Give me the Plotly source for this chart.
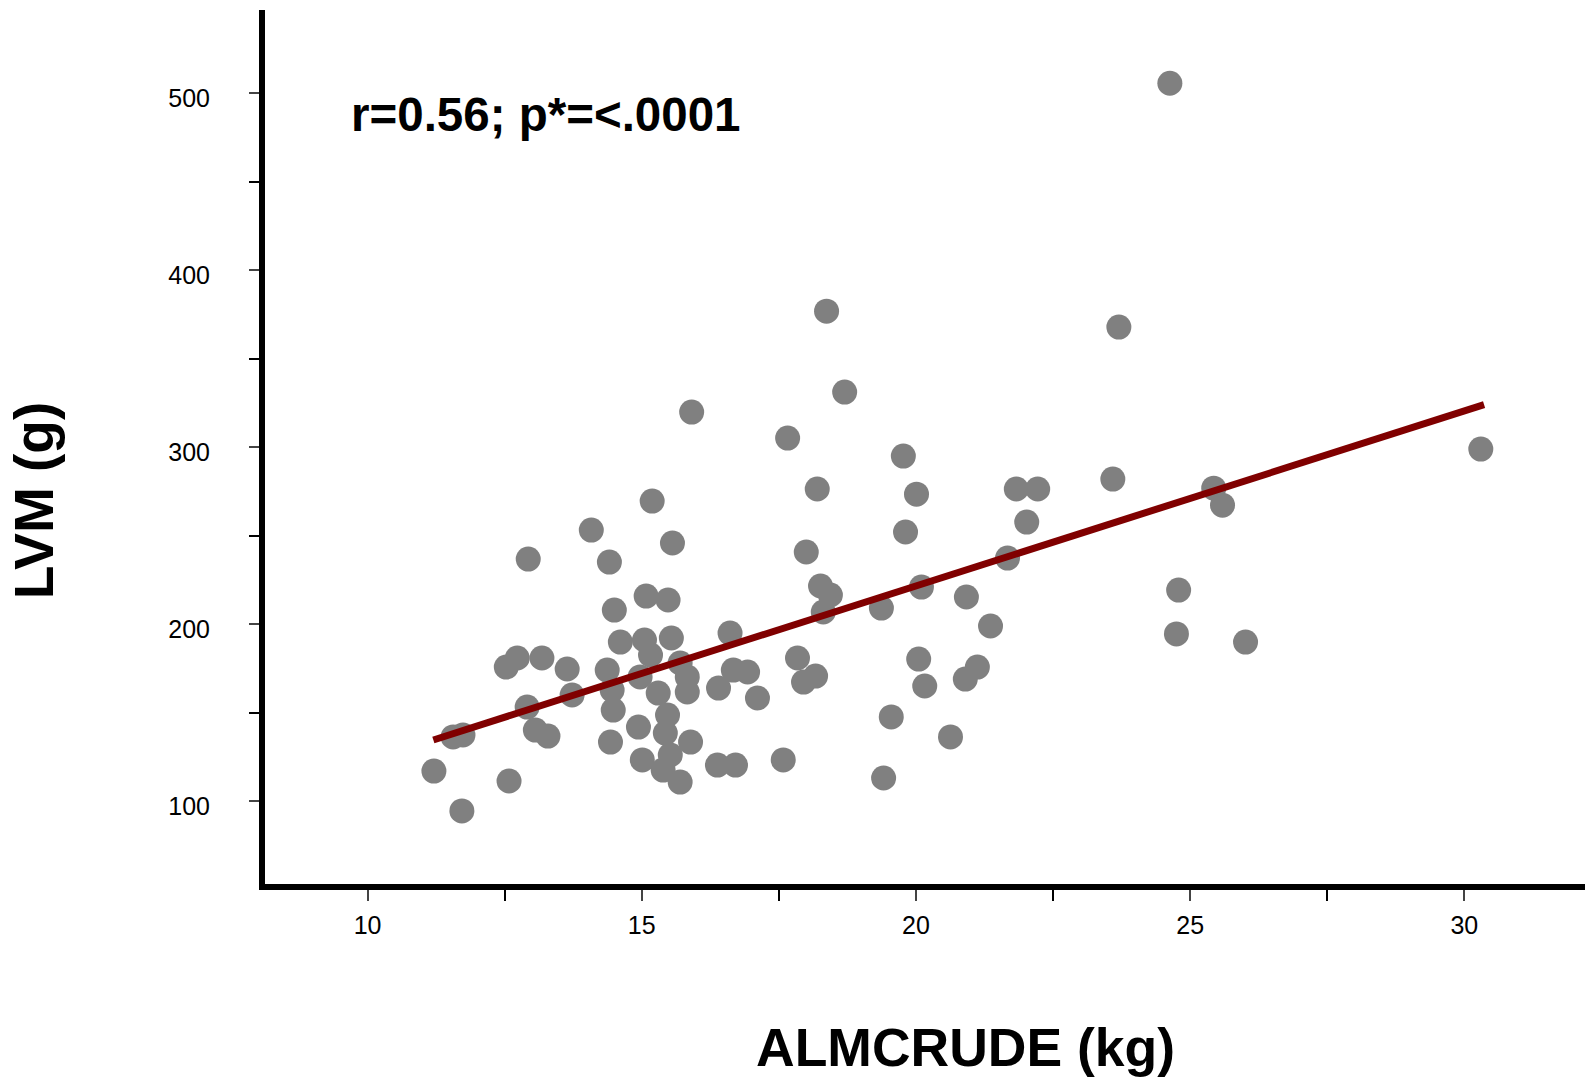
import plotly.graph_objs as go

# ALM crude (kg) vs LVM (g)
alm = [11.21, 11.72, 11.56, 11.74, 12.58, 12.53, 12.73, 12.93, 12.91, 13.06,
       13.29, 13.18, 13.64, 13.73, 14.08, 14.41, 14.50, 14.37, 14.46, 14.48,
       14.43, 14.61, 15.05, 15.19, 15.08, 15.48, 15.56, 15.54, 15.16, 15.70,
       14.97, 15.83, 15.83, 15.30, 15.47, 14.94, 15.43, 15.89, 15.01, 15.52,
       15.39, 15.70, 15.91, 16.38, 16.71, 16.40, 16.61, 16.67, 16.93, 17.11,
       17.58, 17.66, 17.84, 17.95, 18.17, 18.00, 18.20, 18.26, 18.44, 18.31,
       18.37, 18.70, 19.37, 19.55, 19.41, 19.77, 19.81, 20.01, 20.10, 20.05,
       20.16, 20.63, 20.92, 20.90, 21.12, 21.36, 21.67, 21.83, 22.22, 22.02,
       23.59, 23.70, 24.63, 24.79, 24.75, 25.43, 25.59, 26.01, 30.30]
lvm = [116.9, 94.4, 136.2, 137.3, 111.3, 175.7, 180.8, 236.7, 153.1, 140.1,
       136.7, 180.8, 174.6, 159.9, 253.1, 235.0, 207.9, 174.0, 162.7, 151.4,
       133.3, 189.8, 191.0, 269.5, 215.8, 213.6, 245.8, 192.1, 182.5, 178.0,
       170.1, 170.1, 161.6, 161.0, 148.6, 141.8, 138.4, 133.3, 123.2, 126.0,
       117.5, 110.7, 319.8, 120.3, 120.3, 163.8, 194.9, 174.0, 172.9, 158.2,
       123.2, 305.1, 180.8, 167.2, 170.6, 240.7, 276.3, 221.5, 216.4, 206.8,
       376.8, 331.1, 209.0, 147.5, 113.0, 294.9, 252.0, 273.4, 220.9, 180.2,
       165.0, 136.2, 215.3, 168.9, 175.7, 198.9, 237.3, 276.3, 276.3, 257.6,
       281.9, 367.8, 505.6, 219.2, 194.4, 276.8, 267.2, 189.8, 298.9]

# fitted regression line (end points)
fit_x = [11.2, 30.36]
fit_y = [134.5, 324.0]

x_ticks = [10, 15, 20, 25, 30]
y_ticks = [100, 200, 300, 400, 500]

FONT = "Liberation Sans, Arial, sans-serif"

fig = go.Figure()
fig.add_trace(go.Scatter(
    x=alm, y=lvm, mode="markers",
    marker=dict(size=25, color="#808080", line=dict(width=0)),
    showlegend=False, hoverinfo="skip"))
fig.add_trace(go.Scatter(
    x=fit_x, y=fit_y, mode="lines",
    line=dict(color="#800000", width=7),
    showlegend=False, hoverinfo="skip"))

fig.update_layout(
    width=1585, height=1081,
    margin=dict(l=265, r=0, t=10, b=197),
    paper_bgcolor="white", plot_bgcolor="white",
    font=dict(family=FONT, color="black"),
    xaxis=dict(
        range=[8.13, 32.2], tickvals=x_ticks,
        showgrid=False, zeroline=False,
        showline=True, linecolor="black", linewidth=6,
        ticks="outside", ticklen=11, tickwidth=1.5, tickcolor="#444",
        minor=dict(dtick=2.5, tick0=0, ticks="outside", ticklen=11,
                   tickwidth=1.5, tickcolor="black"),
        tickfont=dict(size=25, family=FONT),
        ticklabelstandoff=3,
    ),
    yaxis=dict(
        range=[53.1, 547], tickvals=y_ticks,
        showgrid=False, zeroline=False,
        showline=True, linecolor="black", linewidth=6,
        ticks="outside", ticklen=10, tickwidth=1.5, tickcolor="#444",
        minor=dict(dtick=50, tick0=0, ticks="outside", ticklen=10,
                   tickwidth=1.5, tickcolor="black"),
        tickfont=dict(size=25, family=FONT),
        ticklabelstandoff=34,
        ticklabelshift=5,
    ),
    annotations=[
        dict(text="<b>r=0.56; p*=<.0001</b>", xref="paper", yref="paper",
             x=0.064, y=0.880, xanchor="left", yanchor="middle",
             showarrow=False, font=dict(size=47.5, family=FONT)),
        dict(text="<b>ALMCRUDE (kg)</b>", xref="paper", yref="paper",
             x=0.531, y=-0.1876, xanchor="center", yanchor="middle",
             showarrow=False, font=dict(size=53.5, family=FONT)),
        dict(text="<b>LVM (g)</b>", xref="paper", yref="paper",
             x=-0.175, y=0.439, xanchor="center", yanchor="middle",
             textangle=-90, showarrow=False, font=dict(size=55, family=FONT)),
    ],
)

# drop the default page margin so the figure sits at the window's top-left
fig.write_html("out.html", config={"displayModeBar": False},
               post_script="document.body.style.margin='0';")
